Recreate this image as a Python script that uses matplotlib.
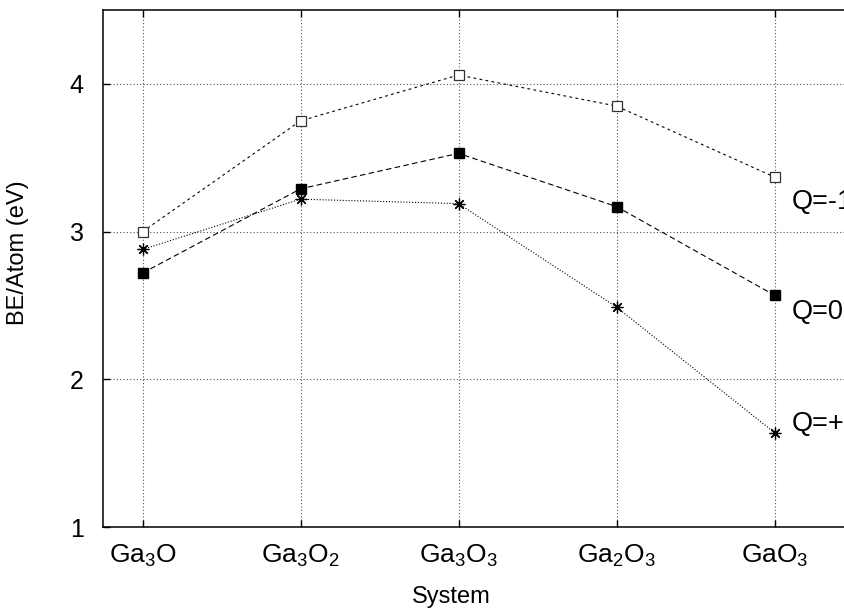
import numpy as np
import matplotlib
matplotlib.use('Agg')
import matplotlib.pyplot as plt

plt.rcParams.update({
    'font.family': ['Liberation Sans', 'DejaVu Sans'],
    'mathtext.fontset': 'custom',
    'mathtext.rm': 'Liberation Sans',
    'mathtext.default': 'regular',
    'font.size': 17,
})

# -- data --
systems = ['Ga$_3$O', 'Ga$_3$O$_2$', 'Ga$_3$O$_3$', 'Ga$_2$O$_3$', 'GaO$_3$']
x_pos = [1, 2, 3, 4, 5]
be_qm1 = [3.00, 3.75, 4.06, 3.85, 3.37]   # Q=-1
be_q0 = [2.72, 3.29, 3.53, 3.17, 2.57]    # Q=0
be_qp1 = [2.88, 3.22, 3.19, 2.49, 1.64]   # Q=+1

fig = plt.figure(figsize=(8.44, 6.11), dpi=100)
# plot area runs past the right edge of the picture, as in the original
ax = fig.add_axes([103 / 844, 1 - 527.3 / 611, 790 / 844, (527.3 - 10) / 611])

lw = 0.8
ax.plot(x_pos, be_qm1, color='black', lw=lw, dashes=(2.5, 3.0),
        marker='s', ms=6.5, mfc='white', mec='#333333', mew=0.9)
ax.plot(x_pos, be_q0, color='black', lw=lw, dashes=(5.0, 3.0),
        marker='s', ms=6.5, mfc='black', mec='black')
ax.plot(x_pos, be_qp1, color='black', lw=lw, dashes=(1.0, 1.6),
        marker=(8, 2, 0), ms=8.5, mec='black', mew=0.9)

ax.text(5.108, 3.20, 'Q=-1', va='center', ha='left', fontsize=19.5)
ax.text(5.108, 2.455, 'Q=0', va='center', ha='left', fontsize=19.5)
ax.text(5.108, 1.70, 'Q=+1', va='center', ha='left', fontsize=19.5)

ax.set_xlim(0.75, 5.75)
ax.set_ylim(1, 4.5)
ax.set_xticks(x_pos)
ax.set_xticklabels(systems, fontsize=19)
ax.set_yticks([1, 2, 3, 4])
ax.set_yticklabels(['1', '2', '3', '4'], fontsize=18)

ax.grid(True, color='#555555', lw=0.8, linestyle=(0, (1, 2)))
ax.tick_params(direction='in', length=5, width=1, top=True, right=True)
ax.tick_params(axis='x', pad=11)
ax.tick_params(axis='y', pad=14)
for s in ax.spines.values():
    s.set_linewidth(1.1)

fig.text(451 / 844, 1 - 597 / 611, 'System', ha='center', va='center')
fig.text(18 / 844, 1 - 253 / 611, 'BE/Atom (eV)', ha='center', va='center',
         rotation=90)

fig.savefig('out.png', dpi=100)
